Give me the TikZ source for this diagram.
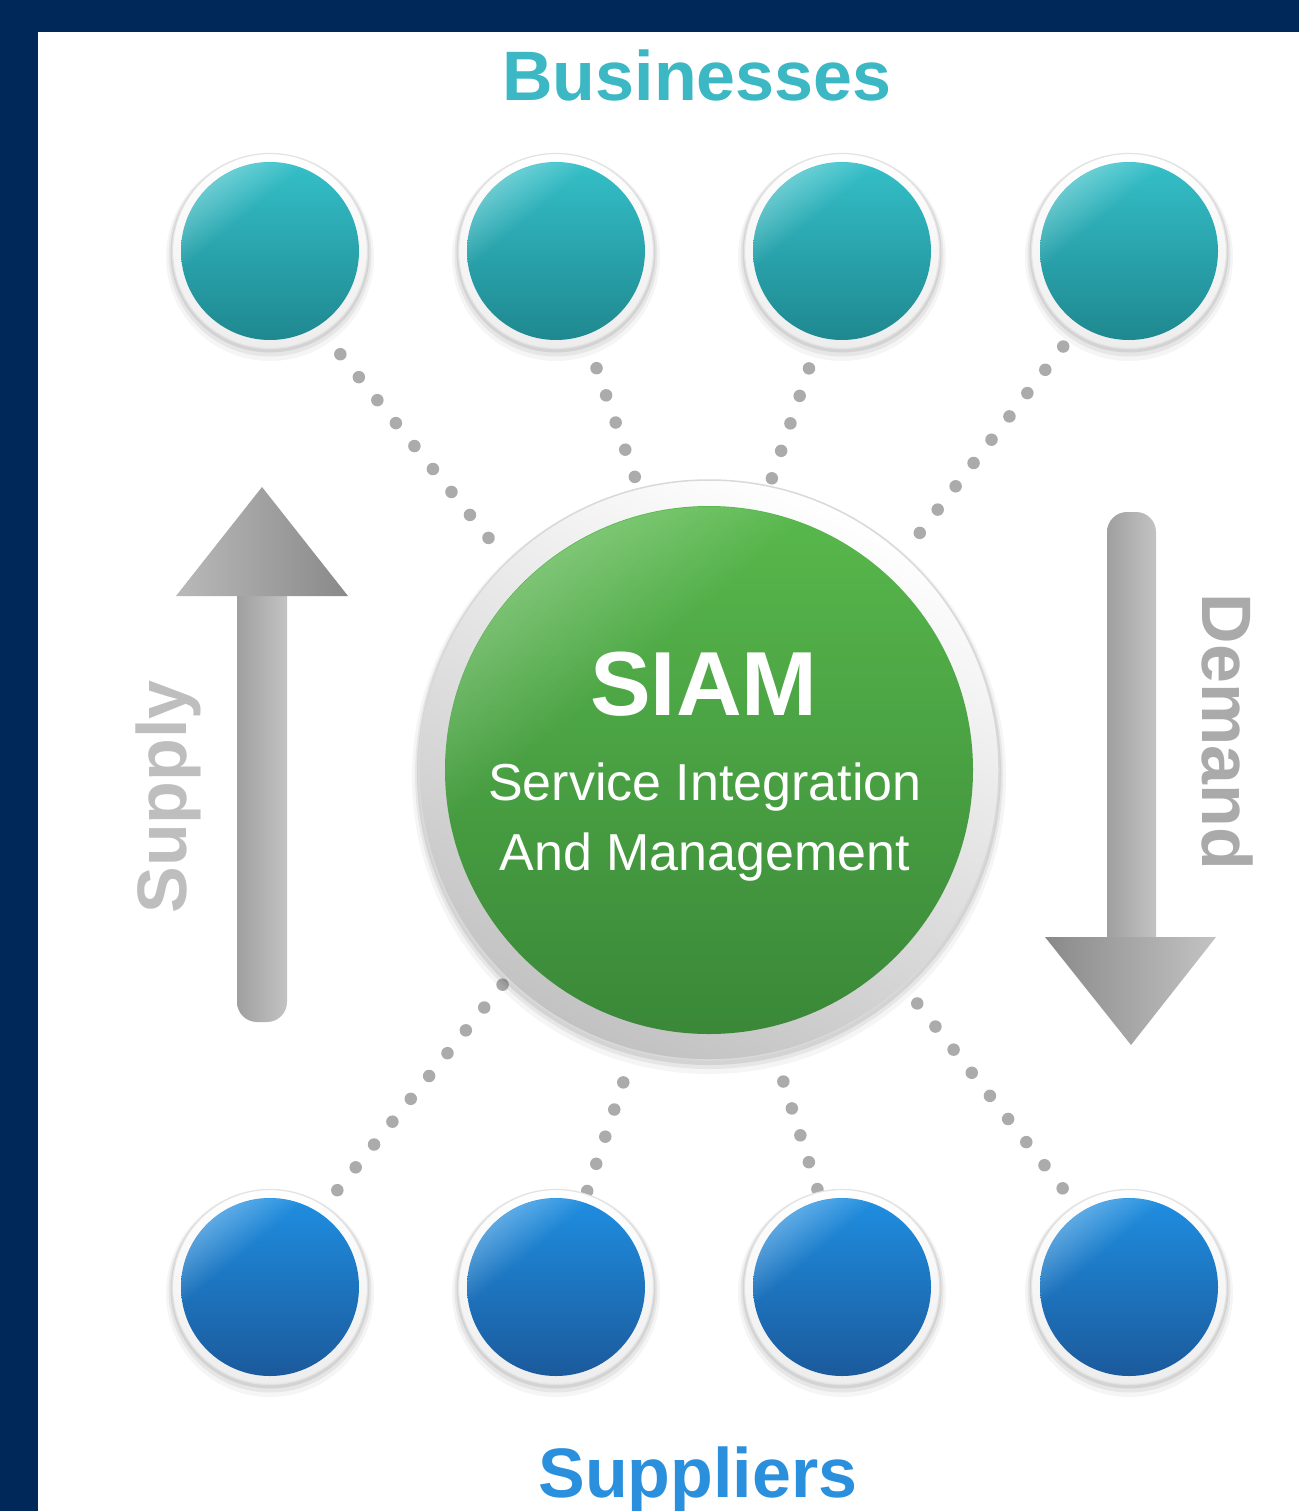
\documentclass[tikz,border=0pt]{standalone}
\usepackage{fontspec}
\setmainfont{Liberation Sans}
\usetikzlibrary{fadings}
\definecolor{navy}{RGB}{0,41,90}
\definecolor{bizcol}{HTML}{3BB8C3}
\definecolor{supcol}{HTML}{2A8FDC}
\definecolor{tealtop}{HTML}{34BFC8}
\definecolor{tealbot}{HTML}{1F8890}
\definecolor{bluetop}{HTML}{1F8EE0}
\definecolor{bluebot}{HTML}{1B5A9C}
\definecolor{greentop}{HTML}{58B84C}
\definecolor{greenbot}{HTML}{3A8838}
\definecolor{dotgray}{HTML}{ABABAB}
\definecolor{arrdark}{HTML}{959595}
\definecolor{arrlight}{HTML}{C3C3C3}
\definecolor{supplytxt}{HTML}{BEBEBE}
\definecolor{demandtxt}{HTML}{AAAAAA}
\pgfdeclareverticalshading{glareshade}{100bp}{color(0bp)=(transparent!100); color(62bp)=(transparent!100); color(78bp)=(transparent!50); color(100bp)=(transparent!20)}
\pgfdeclarefading{glare}{\pgfuseshading{glareshade}}
\newcommand\bubble[3]{%
  \begin{scope}[shift={(#1.center)}]
    \fill[black,opacity=.04] (0,6) circle (104);
    \fill[black,opacity=.06] (0,4) circle (101.5);
    \fill[black,opacity=.08] (0,2) circle (99.5);
    \shade[top color=white, bottom color=gray!14] (0,0) circle (97.5);
    \draw[gray!22, line width=1.2pt] (0,0) circle (97.5);
    \shade[top color=#2, bottom color=#3] (0,0) circle (89);
    \fill[white, fill opacity=.7, path fading=glare, fading angle=40] (0,0) circle (89);
  \end{scope}}
\tikzset{
  hub/.style={circle, minimum size=196pt, inner sep=0pt, outer sep=0pt},
  dotline/.style={draw=dotgray, line width=12.5pt, line cap=round, dash pattern=on 0pt off #1},
  dotline/.default=29.3pt,
  title/.style={font=\bfseries\fontsize{70}{80}\selectfont, anchor=base},
  sidelabel/.style={font=\bfseries\fontsize{70}{80}\selectfont, anchor=base},
}
\begin{document}
\begin{tikzpicture}[x=1pt,y=-1pt]
\useasboundingbox (0,0) rectangle (1299,1511);
\fill[white] (0,0) rectangle (1299,1511);
\fill[navy] (0,0) rectangle (1299,32);
\fill[navy] (0,0) rectangle (38,1511);

% named nodes
\node[hub] (b1) at (270,251) {};
\node[hub] (b2) at (556,251) {};
\node[hub] (b3) at (842,251) {};
\node[hub] (b4) at (1129,251) {};
\node[hub] (s1) at (270,1287) {};
\node[hub] (s2) at (556,1287) {};
\node[hub] (s3) at (842,1287) {};
\node[hub] (s4) at (1129,1287) {};
\node[circle, minimum size=582pt, inner sep=0pt, outer sep=0pt] (siam) at (709,770) {};

% dotted connectors
\draw[dotline=29.5pt, shorten <=27pt, shorten >=28pt] (b1.-57) -- (siam.134.4);
\draw[dotline=28.8pt, shorten <=26pt, shorten >=10pt] (b2.-71.7) -- (siam.104.4);
\draw[dotline=29pt, shorten <=24pt, shorten >=7pt] (b3.-105.2) -- (siam.78.4);
\draw[dotline=29.4pt, shorten <=18pt, shorten >=25pt] (b4.-124.8) -- (siam.48.8);
\draw[dotline=29.3pt, shorten <=20pt, shorten >=6pt] (s1.56.7) -- (siam.-134.5);
\draw[dotline=28.6pt, shorten <=3pt, shorten >=32pt] (s2.72.4) -- (siam.-105);
\draw[dotline=28.2pt, shorten <=3pt, shorten >=29pt] (s3.104.6) -- (siam.-77.2);
\draw[dotline=29.4pt, shorten <=21pt, shorten >=20pt] (s4.123.7) -- (siam.-48.1);

% bubbles
\bubble{b1}{tealtop}{tealbot}
\bubble{b2}{tealtop}{tealbot}
\bubble{b3}{tealtop}{tealbot}
\bubble{b4}{tealtop}{tealbot}
\bubble{s1}{bluetop}{bluebot}
\bubble{s2}{bluetop}{bluebot}
\bubble{s3}{bluetop}{bluebot}
\bubble{s4}{bluetop}{bluebot}

% central SIAM circle
\begin{scope}[shift={(siam.center)}]
  \fill[black,opacity=.04] (0,7) circle (297);
  \fill[black,opacity=.06] (0,5) circle (294);
  \fill[black,opacity=.08] (0,3) circle (292);
  \shade[top color=white, middle color=gray!10, bottom color=gray!48, shading angle=-25] (0,0) circle (290);
  \draw[gray!30, line width=1.5pt] (0,0) circle (290);
  \shade[top color=greentop, bottom color=greenbot] (0,0) circle (264);
  \fill[white, fill opacity=.6, path fading=glare, fading angle=40] (0,0) circle (264);
\end{scope}
\node[white, font=\bfseries\fontsize{91}{100}\selectfont, anchor=base] (siamt) at (704,715) {SIAM};
\node[white, font=\fontsize{52}{60}\selectfont, anchor=base] (siam1) at (705,800) {Service Integration};
\node[white, font=\fontsize{52}{60}\selectfont, anchor=base] (siam2) at (705,870) {And Management};

% supply arrow (up)
\shade[left color=arrdark!90, right color=arrlight, rounded corners=20pt] (237,560) rectangle (287,1022);
\shade[left color=arrlight!95!black, right color=arrdark!92!black] (176,596) -- (262,487) -- (348,596) -- cycle;
% demand arrow (down)
\shade[left color=arrdark!90, right color=arrlight, rounded corners=20pt] (1107,512) rectangle (1156,975);
\shade[left color=arrdark!92!black, right color=arrlight] (1045,937) -- (1216,937) -- (1131,1045) -- cycle;

% labels
\node[title, text=bizcol] (biz) at (697,101) {Businesses};
\node[title, text=supcol] (sup) at (698,1497) {Suppliers};
\node[sidelabel, text=supplytxt, rotate=90] (supply) at (186,797) {Supply};
\node[sidelabel, text=demandtxt, rotate=-90] (demand) at (1202,732) {Demand};
\end{tikzpicture}
\end{document}
